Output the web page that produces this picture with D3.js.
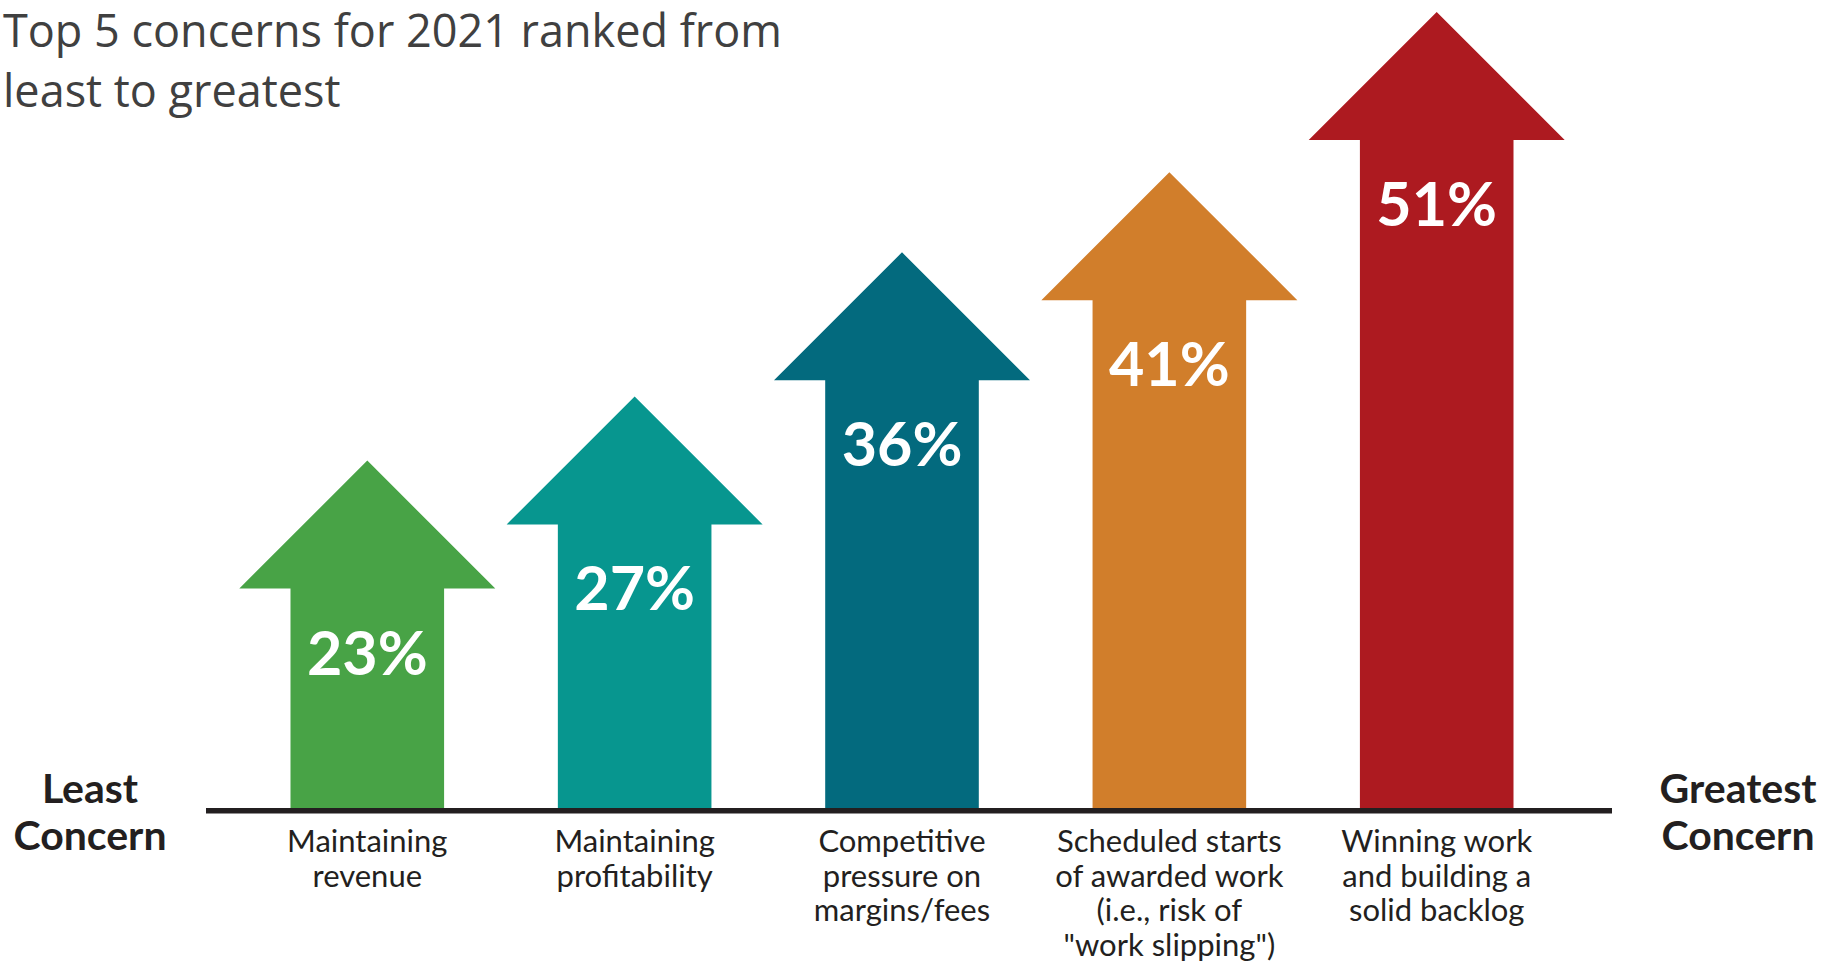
<!DOCTYPE html>
<html>
<head>
<meta charset="utf-8">
<script src="https://cdn.jsdelivr.net/npm/d3@7"></script>
<style>
  html, body { margin: 0; padding: 0; background: #ffffff; }
  svg { display: block; }
</style>
</head>
<body>
<div id="chart"></div>
<script>
// Survey concerns, ordered from least to greatest
const categories = [
  "Maintaining revenue",
  "Maintaining profitability",
  "Competitive pressure on margins/fees",
  "Scheduled starts of awarded work",
  "Winning work and building a solid backlog"
];
const categoryLines = [
  ["Maintaining", "revenue"],
  ["Maintaining", "profitability"],
  ["Competitive", "pressure on", "margins/fees"],
  ["Scheduled starts", "of awarded work", "(i.e., risk of", "\"work slipping\")"],
  ["Winning work", "and building a", "solid backlog"]
];
const values = [23, 27, 36, 41, 51];
const colors = ["#48a346", "#07968f", "#036a7e", "#d17e2b", "#ad1a20"];
const titleLines = ["Top 5 concerns for 2021 ranked from", "least to greatest"];
const leftLabel = ["Least", "Concern"];
const rightLabel = ["Greatest", "Concern"];

const width = 1835, height = 966;
const baseY = 808;

const svg = d3.select("#chart").append("svg")
  .attr("width", width)
  .attr("height", height);

const x = d3.scaleBand()
  .domain(categories)
  .range([239.3, 1564.7])
  .paddingInner(0.0425)
  .paddingOuter(0);

const y = d3.scaleLinear()
  .domain([0, 51])
  .range([829, 12]);

const bw = x.bandwidth();
const headHalf = bw / 2;
const headH = bw / 2;
const shaftHalf = bw * 0.3;

function arrowPath(cat, v) {
  const cx = x(cat) + bw / 2;
  const tip = y(v);
  const hb = tip + headH;
  const p = d3.path();
  p.moveTo(cx, tip);
  p.lineTo(cx + headHalf, hb);
  p.lineTo(cx + shaftHalf, hb);
  p.lineTo(cx + shaftHalf, baseY);
  p.lineTo(cx - shaftHalf, baseY);
  p.lineTo(cx - shaftHalf, hb);
  p.lineTo(cx - headHalf, hb);
  p.closePath();
  return p.toString();
}

const data = categories.map((c, i) => ({ cat: c, value: values[i], color: colors[i], lines: categoryLines[i] }));

// Arrows
svg.append("g").selectAll("path")
  .data(data)
  .join("path")
  .attr("d", d => arrowPath(d.cat, d.value))
  .attr("fill", d => d.color);

// Value labels inside the arrows
svg.append("g").selectAll("text")
  .data(data)
  .join("text")
  .attr("x", d => x(d.cat) + bw / 2)
  .attr("y", d => y(d.value) + 214)
  .attr("text-anchor", "middle")
  .attr("font-family", "Lato, 'Noto Sans', sans-serif")
  .attr("font-weight", 700)
  .attr("font-size", 61)
  .attr("fill", "#ffffff")
  .text(d => d.value + "%");

// Baseline
svg.append("line")
  .attr("x1", 206).attr("x2", 1612)
  .attr("y1", baseY + 2.75).attr("y2", baseY + 2.75)
  .attr("stroke", "#231f20")
  .attr("stroke-width", 5.5);

// Category labels
const catG = svg.append("g").selectAll("text")
  .data(data)
  .join("text")
  .attr("text-anchor", "middle")
  .attr("font-family", "Lato, 'Noto Sans', sans-serif")
  .attr("font-size", 31)
  .attr("fill", "#231f20");
catG.selectAll("tspan")
  .data(d => d.lines.map(l => ({ line: l, cx: x(d.cat) + bw / 2 })))
  .join("tspan")
  .attr("x", d => d.cx)
  .attr("y", (d, i) => 852 + i * 34.5)
  .text(d => d.line);

// End labels
function endLabel(lines, cx) {
  svg.append("g").selectAll("text")
    .data(lines)
    .join("text")
    .attr("x", cx)
    .attr("y", (d, i) => 802.5 + i * 47.5)
    .attr("text-anchor", "middle")
    .attr("font-family", "Lato, 'Noto Sans', sans-serif")
    .attr("font-weight", 700)
    .attr("font-size", 41)
    .attr("fill", "#231f20")
    .text(d => d);
}
endLabel(leftLabel, 90);
endLabel(rightLabel, 1738);

// Title
svg.append("g").selectAll("text")
  .data(titleLines)
  .join("text")
  .attr("x", 3)
  .attr("y", (d, i) => 47 + i * 60)
  .attr("font-family", "'Open Sans', Lato, sans-serif")
  .attr("font-size", 45)
  .attr("fill", "#404040")
  .text(d => d);
</script>
</body>
</html>
